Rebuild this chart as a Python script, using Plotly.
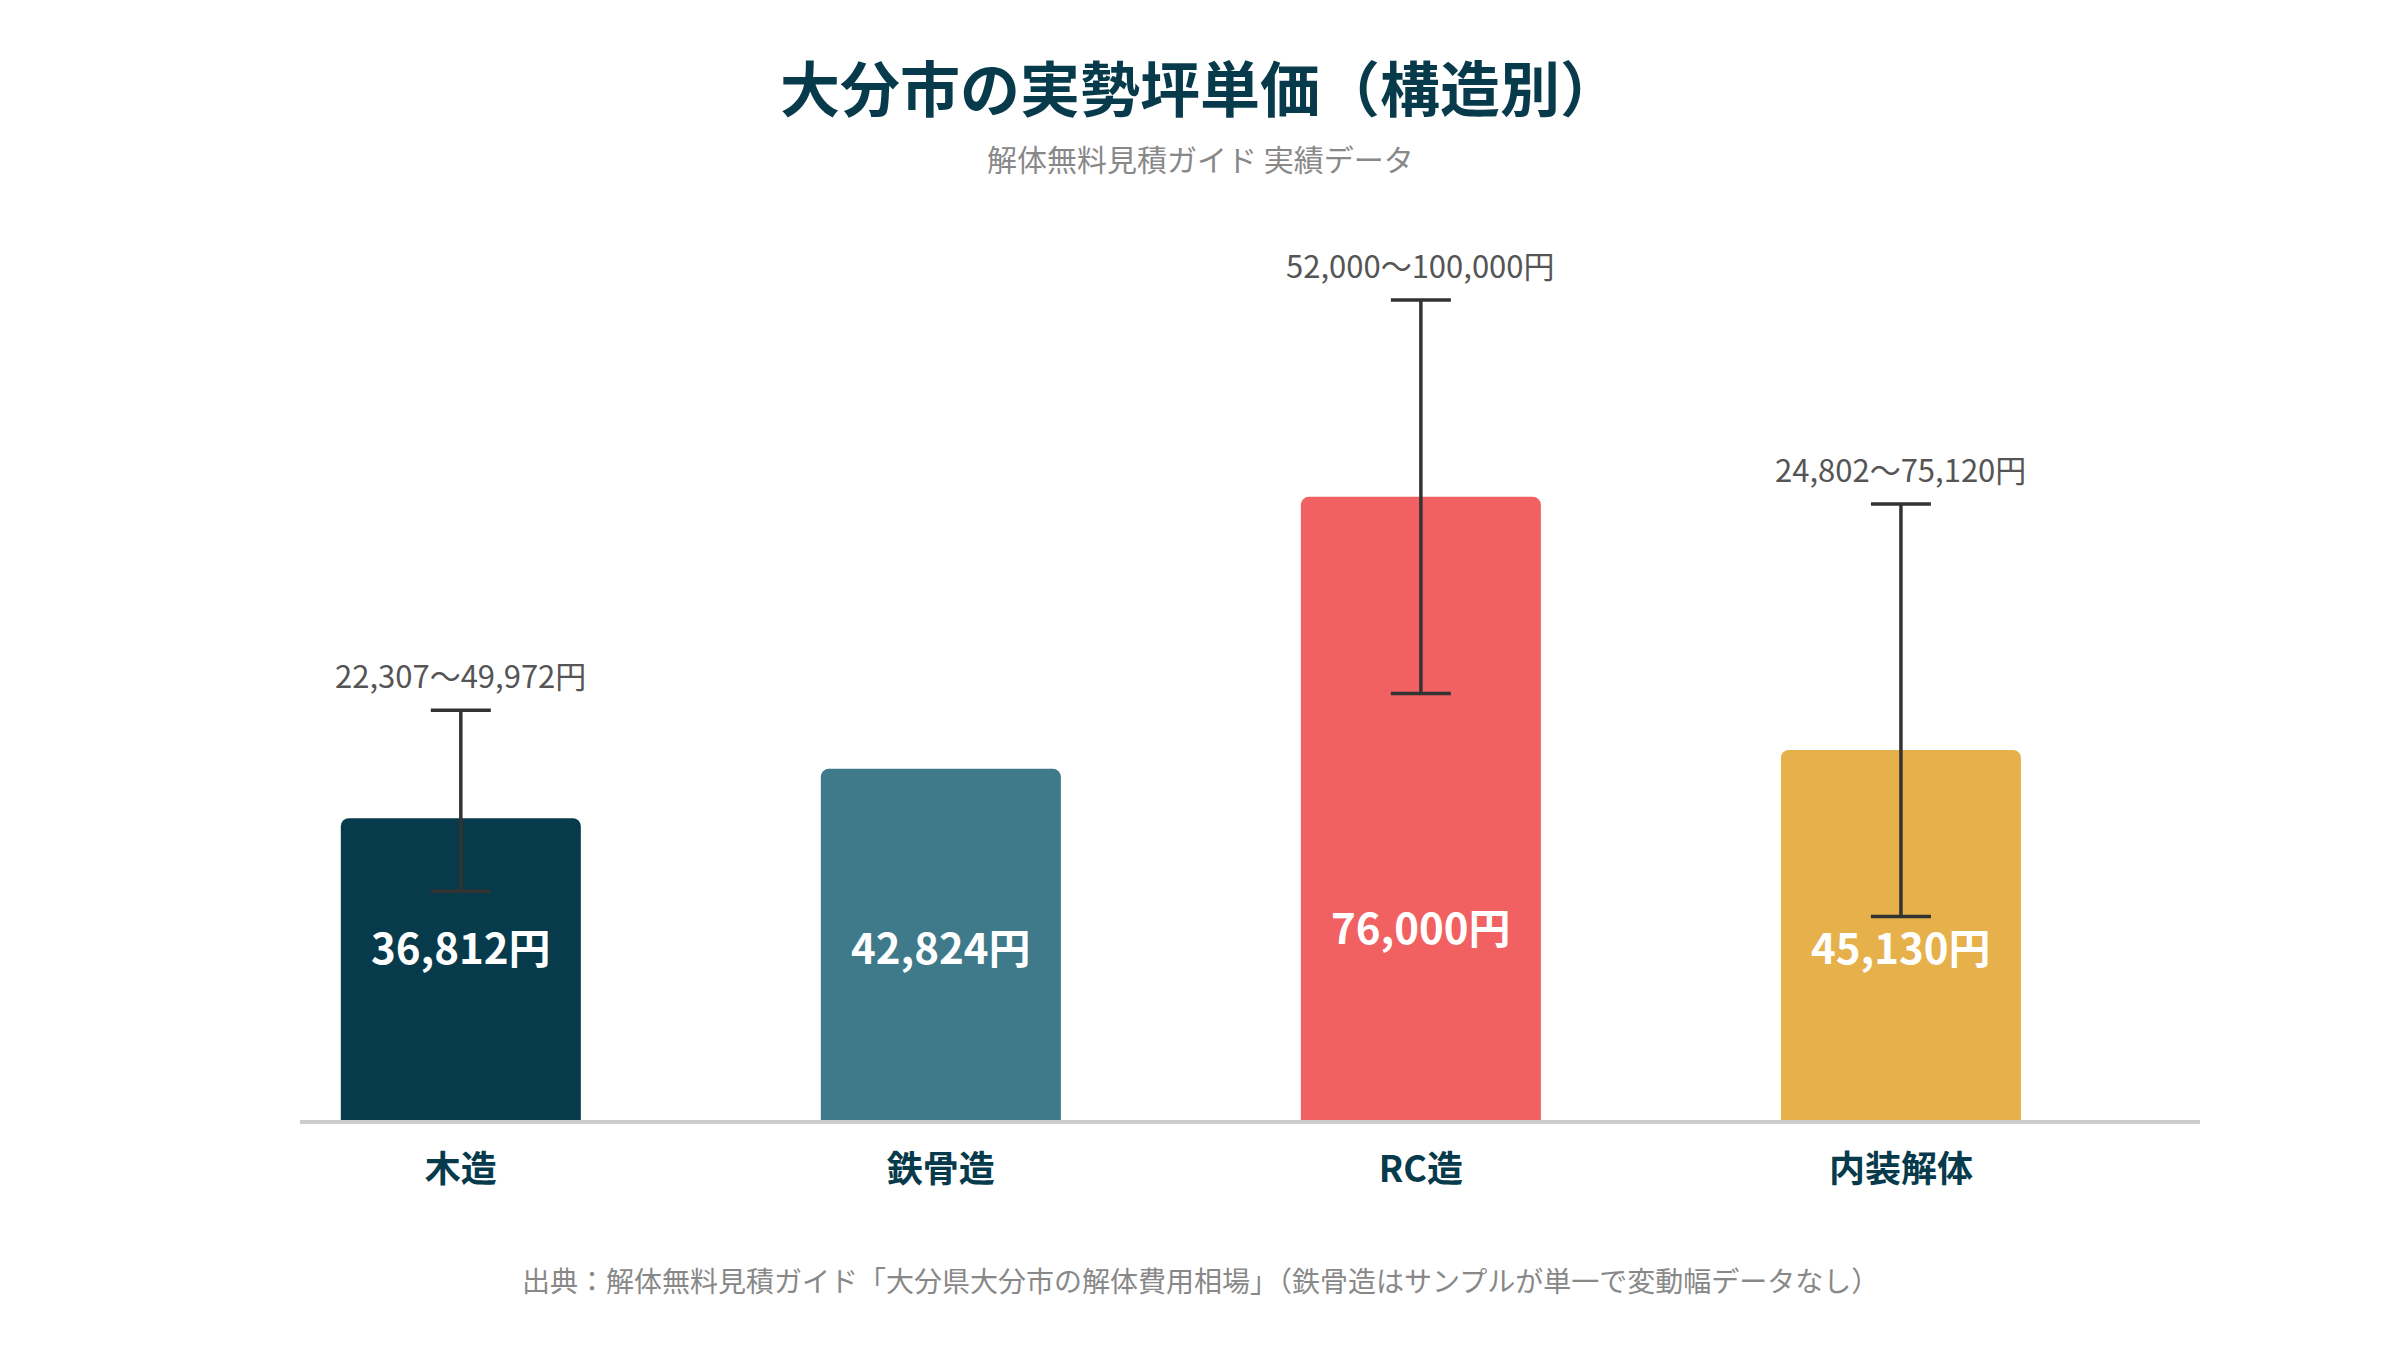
import plotly.graph_objects as go

# ---- data ----
categories = ["木造", "鉄骨造", "RC造", "内装解体"]
avg_price = [36812, 42824, 76000, 45130]
range_low = [27900, None, 52000, 24802]     # lower whisker as drawn
range_high = [49972, None, 100000, 75120]
value_labels = ["36,812円", "42,824円", "76,000円", "45,130円"]
range_labels = ["22,307〜49,972円", None, "52,000〜100,000円", "24,802〜75,120円"]
bar_colors = ["#073B4C", "#3E7A8A", "#F16161", "#E6B04B"]

FONT = "Noto Sans CJK JP"
W, H = 2400, 1350
OFF = 8  # page body margin compensation
ML, MR, MT, MB = 300 - OFF, 200 + OFF, 218 - OFF, 230 + OFF
plot_h = H - MT - MB
plot_w = W - ML - MR

fig = go.Figure()
fig.add_trace(go.Bar(
    x=categories, y=avg_price,
    width=0.5,
    marker=dict(color=bar_colors, cornerradius=8, line=dict(width=0)),
    hoverinfo="skip",
    showlegend=False,
))

# whiskers only where a range exists
ex, ey, eplus, eminus = [], [], [], []
for c, v, lo, hi in zip(categories, avg_price, range_low, range_high):
    if lo is None or hi is None:
        continue
    ex.append(c)
    ey.append(v)
    eplus.append(hi - v)
    eminus.append(v - lo)

fig.add_trace(go.Scatter(
    x=ex, y=ey, mode="markers",
    marker=dict(size=1, opacity=0),
    error_y=dict(type="data", symmetric=False, array=eplus, arrayminus=eminus,
                 color="#333333", thickness=3.5, width=30),
    hoverinfo="skip", showlegend=False,
))

annotations = []
# value labels inside bars
for i, (c, t) in enumerate(zip(categories, value_labels)):
    shift = 195 if avg_price[i] == max(avg_price) else 175
    annotations.append(dict(x=c, y=0, xref="x", yref="y", text=f"<b>{t}</b>",
                            showarrow=False, yshift=shift, yanchor="middle",
                            font=dict(family=FONT, size=42, color="white")))
# range labels above whiskers
for c, hi, t in zip(categories, range_high, range_labels):
    if t is None:
        continue
    annotations.append(dict(x=c, y=hi, xref="x", yref="y", text=t,
                            showarrow=False, yshift=36, yanchor="middle",
                            font=dict(family=FONT, size=31, color="#555555")))

def py(px):  # page pixel y -> paper y
    return (H - MB - (px - OFF)) / plot_h

def px_(x):  # page pixel x -> paper x
    return (x - OFF - ML) / plot_w

annotations.append(dict(x=px_(1200), xref="paper", y=py(158), yref="paper",
                        text="解体無料見積ガイド 実績データ", showarrow=False,
                        yanchor="middle", xanchor="center",
                        font=dict(family=FONT, size=30, color="#888888")))
annotations.append(dict(x=px_(1200), xref="paper", y=py(1280), yref="paper",
                        text="出典：解体無料見積ガイド「大分県大分市の解体費用相場」（鉄骨造はサンプルが単一で変動幅データなし）",
                        showarrow=False, yanchor="middle", xanchor="center",
                        font=dict(family=FONT, size=28, color="#888888")))

fig.update_layout(
    width=W, height=H,
    margin=dict(l=ML, r=MR, t=MT, b=MB, autoexpand=False),
    paper_bgcolor="white", plot_bgcolor="white",
    title=dict(text="<b>大分市の実勢坪単価（構造別）</b>", x=(1200 - OFF) / W, xanchor="center",
               y=1 - (91 - OFF) / H, yanchor="middle", yref="container",
               font=dict(family=FONT, size=60, color="#073B4C")),
    xaxis=dict(range=[-0.335, 3.623], showline=True, linecolor="#CCCCCC", linewidth=4,
               showgrid=False, zeroline=False, ticks="", layer="below traces",
               tickfont=dict(family=FONT, size=36, color="#073B4C"),
               ticklabelstandoff=15, fixedrange=True,
               tickvals=categories,
               ticktext=[f"<b>{c}</b>" for c in categories]),
    yaxis=dict(range=[0, 110000], visible=False, showgrid=False, zeroline=False, fixedrange=True),
    annotations=annotations,
    bargap=0.5,
)

fig.write_html("out.html")
